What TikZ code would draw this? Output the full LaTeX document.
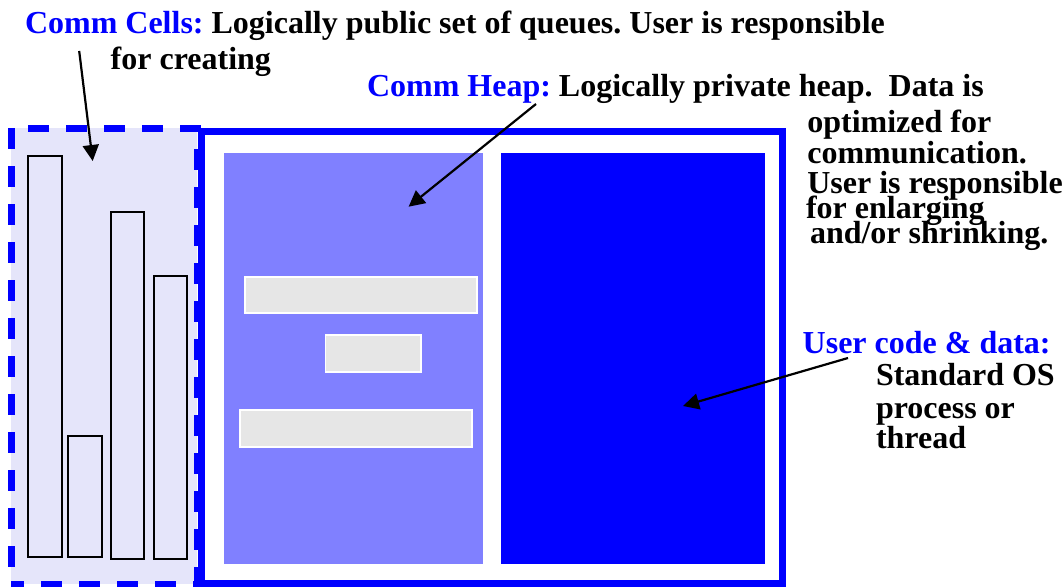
\documentclass[tikz,border=0pt]{standalone}
\usepackage{fontspec}
\setmainfont{Liberation Serif}
\usetikzlibrary{arrows.meta}
\definecolor{pblue}{HTML}{0000FF}
\definecolor{heapc}{HTML}{8080FF}
\definecolor{lav}{HTML}{E5E5FA}
\definecolor{barc}{HTML}{E6E6E6}
\frenchspacing
\tikzset{
  box/.style={rectangle, inner sep=0pt, outer sep=0pt},
  cellsbox/.style={box, draw=pblue, fill=lav, line width=7pt, dash pattern=on 21pt off 17pt, dash phase=8pt},
  mainbox/.style={box, draw=pblue, fill=white, line width=7pt},
  queue/.style={box, draw=black, line width=1.8pt},
  gbar/.style={box, draw=white, fill=barc, line width=1.6pt},
  txt/.style={anchor=base west, inner sep=0pt, outer sep=0pt, font=\fontsize{32}{36}\selectfont\bfseries},
  arr/.style={line width=2.2pt, -{Triangle[length=16pt,width=16pt]}}
}
\begin{document}
\begin{tikzpicture}[x=1pt,y=-1pt]
\useasboundingbox (0,0) rectangle (1064,586);
% comm cells region
\node[cellsbox, minimum width=185.8pt, minimum height=456pt] (cells) at (104.1,356) {};
\node[queue, minimum width=33.4pt, minimum height=401pt] (q1) at (45,356.2) {};
\node[queue, minimum width=33.4pt, minimum height=121pt] (q2) at (85,496.2) {};
\node[queue, minimum width=33.3pt, minimum height=347.3pt] (q3) at (127.65,385.35) {};
\node[queue, minimum width=33pt, minimum height=283.3pt] (q4) at (170.2,417.35) {};
% main process box
\node[mainbox, minimum width=580.5pt, minimum height=452pt] (main) at (491.75,357) {};
\node[box, fill=heapc, minimum width=258.8pt, minimum height=410.7pt] (heap) at (353.1,358.65) {};
\node[box, fill=pblue, minimum width=264pt, minimum height=410.7pt] (user) at (633,358.65) {};
\node[gbar, minimum width=231.7pt, minimum height=36pt] (b1) at (360.85,294.7) {};
\node[gbar, minimum width=95.3pt, minimum height=36.7pt] (b2) at (373.15,353.35) {};
\node[gbar, minimum width=231.7pt, minimum height=36.7pt] (b3) at (355.85,428.35) {};
% texts
\node[txt] (t1) at (25,33.3) {\textcolor{pblue}{Comm Cells:} Logically public set of queues. User is responsible};
\node[txt] (t2) at (110.7,70) {for creating};
\node[txt] (t3) at (367,96.5) {\textcolor{pblue}{Comm Heap:} Logically private heap.\ \ Data is};
\node[txt] (t4) at (807.3,132) {optimized for};
\node[txt] (t5) at (807.3,163) {communication.};
\node[txt] (t6) at (807.3,193.3) {User is responsible};
\node[txt] (t7) at (806,218.3) {for enlarging};
\node[txt] (t8) at (810,243.3) {and/or shrinking.};
\node[txt] (t9) at (802.7,353.3) {\textcolor{pblue}{User code \& data:}};
\node[txt] (t10) at (876,385) {Standard OS};
\node[txt] (t11) at (876,418.3) {process or};
\node[txt] (t12) at (876,448.3) {thread};
% arrows
\coordinate (c1s) at (79.2,51);
\coordinate (c1e) at (92.7,161);
\coordinate (c2s) at (536,104);
\coordinate (c2e) at (408.6,206.7);
\coordinate (c3s) at (848,358);
\coordinate (c3e) at (683,406);
\draw[arr] (c1s) -- (c1e);
\draw[arr] (c2s) -- (c2e);
\draw[arr] (c3s) -- (c3e);
\end{tikzpicture}
\end{document}
